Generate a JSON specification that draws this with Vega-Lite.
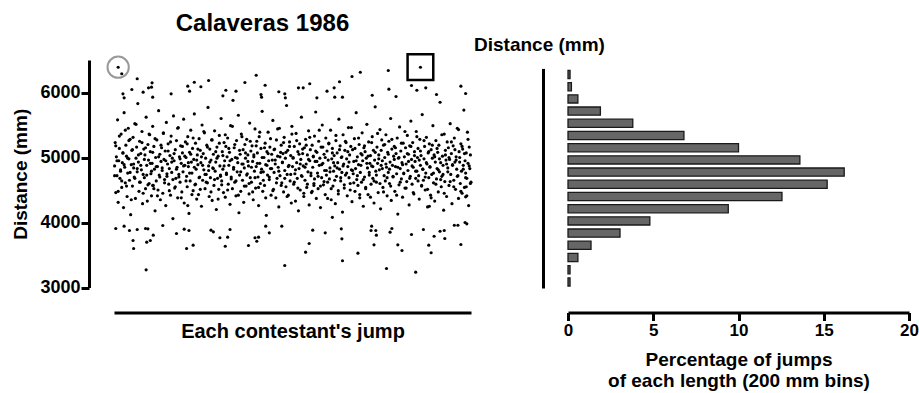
{
"$schema": "https://vega.github.io/schema/vega-lite/v6.json",
"autosize": {"type": "pad"},
"padding": {"left": 11, "top": 12, "right": 5, "bottom": 2},
"background": "white",
"bounds": "flush",
"spacing": 97,
"config": {
  "font": "Liberation Sans",
  "view": {"stroke": null},
  "axis": {"grid": false, "labelColor": "black", "titleColor": "black", "domainColor": "black", "tickColor": "black", "labelFontWeight": "bold", "titleFontWeight": "bold", "labelFlush": false},
  "title": {"fontWeight": "bold", "color": "black"}
},
"datasets": {
"jumps": [
{"j":1,"d":4870},{"j":2,"d":5230},{"j":3,"d":4460},{"j":4,"d":5010},{"j":5,"d":4720},{"j":6,"d":5580},{"j":7,"d":4310},{"j":8,"d":4950},{"j":9,"d":5140},{"j":10,"d":4680},
{"j":11,"d":4790},{"j":12,"d":5360},{"j":13,"d":4540},{"j":14,"d":4920},{"j":15,"d":5070},{"j":16,"d":4230},{"j":17,"d":5690},{"j":18,"d":4850},{"j":19,"d":4610},{"j":20,"d":5190},
{"j":21,"d":5020},{"j":22,"d":4400},{"j":23,"d":4760},{"j":24,"d":5450},{"j":25,"d":4980},{"j":26,"d":4650},{"j":27,"d":5280},{"j":28,"d":4120},{"j":29,"d":4890},{"j":30,"d":5110},
{"j":31,"d":4560},{"j":32,"d":5310},{"j":33,"d":4840},{"j":34,"d":4700},{"j":35,"d":5520},{"j":36,"d":4370},{"j":37,"d":4990},{"j":38,"d":5160},{"j":39,"d":4780},{"j":40,"d":5830},
{"j":41,"d":4930},{"j":42,"d":4480},{"j":43,"d":5250},{"j":44,"d":4620},{"j":45,"d":5060},{"j":46,"d":4810},{"j":47,"d":5400},{"j":48,"d":4290},{"j":49,"d":4740},{"j":50,"d":5130},
{"j":51,"d":4690},{"j":52,"d":5040},{"j":53,"d":4520},{"j":54,"d":5620},{"j":55,"d":4880},{"j":56,"d":4330},{"j":57,"d":5200},{"j":58,"d":4960},{"j":59,"d":4600},{"j":60,"d":5350},
{"j":61,"d":5090},{"j":62,"d":4750},{"j":63,"d":4410},{"j":64,"d":4910},{"j":65,"d":5480},{"j":66,"d":4570},{"j":67,"d":5170},{"j":68,"d":4820},{"j":69,"d":4180},{"j":70,"d":5000},
{"j":71,"d":4640},{"j":72,"d":5270},{"j":73,"d":4860},{"j":74,"d":4500},{"j":75,"d":5720},{"j":76,"d":4730},{"j":77,"d":5050},{"j":78,"d":4350},{"j":79,"d":4940},{"j":80,"d":5150},
{"j":81,"d":4800},{"j":82,"d":4450},{"j":83,"d":5380},{"j":84,"d":4970},{"j":85,"d":4660},{"j":86,"d":5100},{"j":87,"d":4260},{"j":88,"d":5540},{"j":89,"d":4710},{"j":90,"d":4900},
{"j":91,"d":5210},{"j":92,"d":4590},{"j":93,"d":4830},{"j":94,"d":5030},{"j":95,"d":4420},{"j":96,"d":5330},{"j":97,"d":4770},{"j":98,"d":4990},{"j":99,"d":4060},{"j":100,"d":5640},
{"j":101,"d":4950},{"j":102,"d":4530},{"j":103,"d":5120},{"j":104,"d":4680},{"j":105,"d":5260},{"j":106,"d":4850},{"j":107,"d":4380},{"j":108,"d":5460},{"j":109,"d":4740},{"j":110,"d":5010},
{"j":111,"d":4620},{"j":112,"d":5180},{"j":113,"d":4910},{"j":114,"d":4470},{"j":115,"d":5070},{"j":116,"d":4780},{"j":117,"d":5590},{"j":118,"d":4300},{"j":119,"d":4880},{"j":120,"d":5240},
{"j":121,"d":5000},{"j":122,"d":4710},{"j":123,"d":4550},{"j":124,"d":5320},{"j":125,"d":4860},{"j":126,"d":4140},{"j":127,"d":5080},{"j":128,"d":4640},{"j":129,"d":5420},{"j":130,"d":4930},
{"j":131,"d":4760},{"j":132,"d":5140},{"j":133,"d":4490},{"j":134,"d":4970},{"j":135,"d":5670},{"j":136,"d":4580},{"j":137,"d":5220},{"j":138,"d":4820},{"j":139,"d":4360},{"j":140,"d":5040},
{"j":141,"d":4890},{"j":142,"d":4430},{"j":143,"d":5290},{"j":144,"d":4700},{"j":145,"d":5110},{"j":146,"d":4920},{"j":147,"d":4250},{"j":148,"d":5500},{"j":149,"d":4650},{"j":150,"d":5060},
{"j":151,"d":4810},{"j":152,"d":5380},{"j":153,"d":4520},{"j":154,"d":4990},{"j":155,"d":4740},{"j":156,"d":5190},{"j":157,"d":4610},{"j":158,"d":5770},{"j":159,"d":4870},{"j":160,"d":4400},
{"j":161,"d":5130},{"j":162,"d":4690},{"j":163,"d":4960},{"j":164,"d":5270},{"j":165,"d":4340},{"j":166,"d":4840},{"j":167,"d":5050},{"j":168,"d":4570},{"j":169,"d":5410},{"j":170,"d":4790},
{"j":171,"d":4930},{"j":172,"d":4200},{"j":173,"d":5160},{"j":174,"d":4680},{"j":175,"d":5020},{"j":176,"d":4510},{"j":177,"d":5340},{"j":178,"d":4870},{"j":179,"d":4730},{"j":180,"d":5600},
{"j":181,"d":4640},{"j":182,"d":5090},{"j":183,"d":4820},{"j":184,"d":4460},{"j":185,"d":5230},{"j":186,"d":4950},{"j":187,"d":4390},{"j":188,"d":5170},{"j":189,"d":4760},{"j":190,"d":5010},
{"j":191,"d":5300},{"j":192,"d":4590},{"j":193,"d":4880},{"j":194,"d":5080},{"j":195,"d":4280},{"j":196,"d":5490},{"j":197,"d":4700},{"j":198,"d":4970},{"j":199,"d":4520},{"j":200,"d":5880},
{"j":201,"d":4850},{"j":202,"d":5150},{"j":203,"d":4620},{"j":204,"d":5000},{"j":205,"d":4410},{"j":206,"d":5260},{"j":207,"d":4780},{"j":208,"d":4920},{"j":209,"d":5650},{"j":210,"d":4150},
{"j":211,"d":4730},{"j":212,"d":5050},{"j":213,"d":4480},{"j":214,"d":5360},{"j":215,"d":4900},{"j":216,"d":4650},{"j":217,"d":5120},{"j":218,"d":4310},{"j":219,"d":4840},{"j":220,"d":5200},
{"j":221,"d":4990},{"j":222,"d":4560},{"j":223,"d":5280},{"j":224,"d":4750},{"j":225,"d":5040},{"j":226,"d":4870},{"j":227,"d":4440},{"j":228,"d":5530},{"j":229,"d":4690},{"j":230,"d":5100},
{"j":231,"d":4620},{"j":232,"d":5180},{"j":233,"d":4940},{"j":234,"d":4350},{"j":235,"d":5010},{"j":236,"d":4790},{"j":237,"d":5440},{"j":238,"d":4530},{"j":239,"d":4860},{"j":240,"d":5250},
{"j":241,"d":5070},{"j":242,"d":4700},{"j":243,"d":4260},{"j":244,"d":5320},{"j":245,"d":4910},{"j":246,"d":4600},{"j":247,"d":5140},{"j":248,"d":4820},{"j":249,"d":5710},{"j":250,"d":4480},
{"j":251,"d":4780},{"j":252,"d":5000},{"j":253,"d":4570},{"j":254,"d":5220},{"j":255,"d":4890},{"j":256,"d":4110},{"j":257,"d":5090},{"j":258,"d":4730},{"j":259,"d":5390},{"j":260,"d":4950},
{"j":261,"d":4660},{"j":262,"d":5160},{"j":263,"d":4830},{"j":264,"d":4420},{"j":265,"d":5050},{"j":266,"d":4960},{"j":267,"d":5570},{"j":268,"d":4510},{"j":269,"d":4770},{"j":270,"d":5130},
{"j":271,"d":4900},{"j":272,"d":4380},{"j":273,"d":5270},{"j":274,"d":4680},{"j":275,"d":5020},{"j":276,"d":4850},{"j":277,"d":4240},{"j":278,"d":5450},{"j":279,"d":4720},{"j":280,"d":5080},
{"j":281,"d":5190},{"j":282,"d":4610},{"j":283,"d":4930},{"j":284,"d":5060},{"j":285,"d":4470},{"j":286,"d":5310},{"j":287,"d":4800},{"j":288,"d":4990},{"j":289,"d":4550},{"j":290,"d":5800},
{"j":291,"d":4740},{"j":292,"d":5110},{"j":293,"d":4420},{"j":294,"d":4880},{"j":295,"d":5240},{"j":296,"d":4640},{"j":297,"d":5030},{"j":298,"d":4300},{"j":299,"d":5480},{"j":300,"d":4860},
{"j":301,"d":5000},{"j":302,"d":4590},{"j":303,"d":5170},{"j":304,"d":4750},{"j":305,"d":4330},{"j":306,"d":5370},{"j":307,"d":4920},{"j":308,"d":4680},{"j":309,"d":5090},{"j":310,"d":4180},
{"j":311,"d":4830},{"j":312,"d":5210},{"j":313,"d":4500},{"j":314,"d":4970},{"j":315,"d":5620},{"j":316,"d":4710},{"j":317,"d":5060},{"j":318,"d":4870},{"j":319,"d":4400},{"j":320,"d":5150},
{"j":321,"d":4650},{"j":322,"d":5280},{"j":323,"d":4900},{"j":324,"d":4540},{"j":325,"d":5040},{"j":326,"d":4780},{"j":327,"d":5410},{"j":328,"d":4270},{"j":329,"d":4950},{"j":330,"d":5120},
{"j":331,"d":4720},{"j":332,"d":4460},{"j":333,"d":5190},{"j":334,"d":4850},{"j":335,"d":5010},{"j":336,"d":4600},{"j":337,"d":5330},{"j":338,"d":4940},{"j":339,"d":5700},{"j":340,"d":4370},
{"j":341,"d":5080},{"j":342,"d":4760},{"j":343,"d":4520},{"j":344,"d":5250},{"j":345,"d":4880},{"j":346,"d":4990},{"j":347,"d":4230},{"j":348,"d":5160},{"j":349,"d":4690},{"j":350,"d":5500},
{"j":351,"d":4910},{"j":352,"d":4580},{"j":353,"d":5050},{"j":354,"d":4800},{"j":355,"d":4430},{"j":356,"d":5300},{"j":357,"d":4730},{"j":358,"d":5100},{"j":359,"d":4620},{"j":360,"d":4960},
{"j":361,"d":5220},{"j":362,"d":4670},{"j":363,"d":4840},{"j":364,"d":5420},{"j":365,"d":4350},{"j":366,"d":4980},{"j":367,"d":5140},{"j":368,"d":4560},{"j":369,"d":4790},{"j":370,"d":5030},
{"j":371,"d":4870},{"j":372,"d":4290},{"j":373,"d":5260},{"j":374,"d":4710},{"j":375,"d":5070},{"j":376,"d":4920},{"j":377,"d":4490},{"j":378,"d":5590},{"j":379,"d":4820},{"j":380,"d":5180},
{"j":381,"d":4640},{"j":382,"d":5000},{"j":383,"d":4770},{"j":384,"d":4160},{"j":385,"d":5350},{"j":386,"d":4900},{"j":387,"d":4530},{"j":388,"d":5110},{"j":389,"d":4730},{"j":390,"d":5230},
{"j":391,"d":4980},{"j":392,"d":4410},{"j":393,"d":4860},{"j":394,"d":5460},{"j":395,"d":4690},{"j":396,"d":5040},{"j":397,"d":4600},{"j":398,"d":5170},{"j":399,"d":4810},{"j":400,"d":4320},
{"j":401,"d":5120},{"j":402,"d":4750},{"j":403,"d":4940},{"j":404,"d":5290},{"j":405,"d":4480},{"j":406,"d":4830},{"j":407,"d":5690},{"j":408,"d":4660},{"j":409,"d":5010},{"j":410,"d":4570},
{"j":411,"d":4890},{"j":412,"d":5200},{"j":413,"d":4380},{"j":414,"d":4770},{"j":415,"d":5060},{"j":416,"d":4620},{"j":417,"d":5380},{"j":418,"d":4950},{"j":419,"d":4250},{"j":420,"d":5150},
{"j":421,"d":4700},{"j":422,"d":5090},{"j":423,"d":4520},{"j":424,"d":4990},{"j":425,"d":5510},{"j":426,"d":4840},{"j":427,"d":4430},{"j":428,"d":5240},{"j":429,"d":4730},{"j":430,"d":4910},
{"j":431,"d":5030},{"j":432,"d":4590},{"j":433,"d":4870},{"j":434,"d":5320},{"j":435,"d":4680},{"j":436,"d":5110},{"j":437,"d":4300},{"j":438,"d":4960},{"j":439,"d":5780},{"j":440,"d":4790},
{"j":441,"d":4620},{"j":442,"d":5160},{"j":443,"d":4910},{"j":444,"d":4460},{"j":445,"d":5040},{"j":446,"d":4810},{"j":447,"d":5430},{"j":448,"d":4210},{"j":449,"d":4880},{"j":450,"d":5270},
{"j":451,"d":4950},{"j":452,"d":4540},{"j":453,"d":5190},{"j":454,"d":4720},{"j":455,"d":5000},{"j":456,"d":4640},{"j":457,"d":5350},{"j":458,"d":4850},{"j":459,"d":4410},{"j":460,"d":5080},
{"j":461,"d":4770},{"j":462,"d":5250},{"j":463,"d":4600},{"j":464,"d":4930},{"j":465,"d":5600},{"j":466,"d":4340},{"j":467,"d":5130},{"j":468,"d":4880},{"j":469,"d":4700},{"j":470,"d":5020},
{"j":471,"d":5170},{"j":472,"d":4480},{"j":473,"d":4860},{"j":474,"d":5060},{"j":475,"d":4750},{"j":476,"d":5300},{"j":477,"d":4130},{"j":478,"d":4990},{"j":479,"d":4580},{"j":480,"d":5470},
{"j":481,"d":4830},{"j":482,"d":5100},{"j":483,"d":4670},{"j":484,"d":4920},{"j":485,"d":4390},{"j":486,"d":5220},{"j":487,"d":4760},{"j":488,"d":5010},{"j":489,"d":4530},{"j":490,"d":5150},
{"j":491,"d":4900},{"j":492,"d":4630},{"j":493,"d":5340},{"j":494,"d":4800},{"j":495,"d":5050},{"j":496,"d":4270},{"j":497,"d":5180},{"j":498,"d":4710},{"j":499,"d":5560},{"j":500,"d":4970},
{"j":501,"d":4590},{"j":502,"d":5230},{"j":503,"d":4850},{"j":504,"d":4440},{"j":505,"d":5090},{"j":506,"d":4940},{"j":507,"d":4680},{"j":508,"d":5400},{"j":509,"d":4790},{"j":510,"d":5000},
{"j":511,"d":5140},{"j":512,"d":4720},{"j":513,"d":4360},{"j":514,"d":5280},{"j":515,"d":4880},{"j":516,"d":5030},{"j":517,"d":4560},{"j":518,"d":5660},{"j":519,"d":4820},{"j":520,"d":4650},
{"j":521,"d":4980},{"j":522,"d":5170},{"j":523,"d":4500},{"j":524,"d":4760},{"j":525,"d":5310},{"j":526,"d":4900},{"j":527,"d":4240},{"j":528,"d":5070},{"j":529,"d":4690},{"j":530,"d":5210},
{"j":531,"d":4860},{"j":532,"d":4420},{"j":533,"d":5120},{"j":534,"d":4740},{"j":535,"d":4990},{"j":536,"d":5490},{"j":537,"d":4610},{"j":538,"d":5040},{"j":539,"d":4330},{"j":540,"d":4930},
{"j":541,"d":5260},{"j":542,"d":4670},{"j":543,"d":4830},{"j":544,"d":5080},{"j":545,"d":4470},{"j":546,"d":5190},{"j":547,"d":4780},{"j":548,"d":5850},{"j":549,"d":4920},{"j":550,"d":4550},
{"j":551,"d":4710},{"j":552,"d":5020},{"j":553,"d":4880},{"j":554,"d":4190},{"j":555,"d":5360},{"j":556,"d":4630},{"j":557,"d":5110},{"j":558,"d":4960},{"j":559,"d":4400},{"j":560,"d":5240},
{"j":561,"d":4840},{"j":562,"d":5150},{"j":563,"d":4570},{"j":564,"d":4970},{"j":565,"d":5520},{"j":566,"d":4740},{"j":567,"d":5060},{"j":568,"d":4290},{"j":569,"d":4890},{"j":570,"d":5180},
{"j":571,"d":4650},{"j":572,"d":5300},{"j":573,"d":4930},{"j":574,"d":4510},{"j":575,"d":5010},{"j":576,"d":4820},{"j":577,"d":5450},{"j":578,"d":4720},{"j":579,"d":4370},{"j":580,"d":5090},
{"j":581,"d":5000},{"j":582,"d":4600},{"j":583,"d":5210},{"j":584,"d":4790},{"j":585,"d":4450},{"j":586,"d":5130},{"j":587,"d":4880},{"j":588,"d":5730},{"j":589,"d":4540},{"j":590,"d":4950},
{"j":591,"d":4760},{"j":592,"d":5070},{"j":593,"d":4680},{"j":594,"d":5390},{"j":595,"d":4910},{"j":596,"d":4260},{"j":597,"d":5160},{"j":598,"d":4830},{"j":599,"d":5040},{"j":600,"d":4620},
{"j":1,"d":4720},{"j":3,"d":5180},{"j":5,"d":4950},{"j":7,"d":4480},{"j":9,"d":5330},{"j":11,"d":4810},{"j":13,"d":4640},{"j":15,"d":5070},{"j":17,"d":4890},{"j":19,"d":5420},
{"j":21,"d":4560},{"j":23,"d":4990},{"j":25,"d":5260},{"j":27,"d":4770},{"j":29,"d":4350},{"j":31,"d":5120},{"j":33,"d":4900},{"j":35,"d":4680},{"j":37,"d":5510},{"j":39,"d":4830},
{"j":41,"d":5040},{"j":43,"d":4620},{"j":45,"d":4880},{"j":47,"d":5230},{"j":49,"d":4450},{"j":51,"d":4970},{"j":53,"d":5150},{"j":55,"d":4730},{"j":57,"d":4580},{"j":59,"d":5360},
{"j":61,"d":4910},{"j":63,"d":4790},{"j":65,"d":5080},{"j":67,"d":4520},{"j":69,"d":5290},{"j":71,"d":4860},{"j":73,"d":4410},{"j":75,"d":5010},{"j":77,"d":4700},{"j":79,"d":5190},
{"j":81,"d":4840},{"j":83,"d":5370},{"j":85,"d":4610},{"j":87,"d":4950},{"j":89,"d":4750},{"j":91,"d":5100},{"j":93,"d":4490},{"j":95,"d":5240},{"j":97,"d":4930},{"j":99,"d":4660},
{"j":101,"d":5060},{"j":103,"d":4550},{"j":105,"d":4820},{"j":107,"d":5450},{"j":109,"d":4700},{"j":111,"d":4980},{"j":113,"d":4380},{"j":115,"d":5170},{"j":117,"d":4870},{"j":119,"d":5020},
{"j":121,"d":4640},{"j":123,"d":5210},{"j":125,"d":4920},{"j":127,"d":4760},{"j":129,"d":5050},{"j":131,"d":4430},{"j":133,"d":5300},{"j":135,"d":4850},{"j":137,"d":4590},{"j":139,"d":4960},
{"j":141,"d":5130},{"j":143,"d":4690},{"j":145,"d":4510},{"j":147,"d":5010},{"j":149,"d":4880},{"j":151,"d":5400},{"j":153,"d":4740},{"j":155,"d":4620},{"j":157,"d":5160},{"j":159,"d":4800},
{"j":161,"d":4930},{"j":163,"d":4470},{"j":165,"d":5270},{"j":167,"d":4830},{"j":169,"d":4660},{"j":171,"d":5090},{"j":173,"d":4990},{"j":175,"d":4360},{"j":177,"d":5220},{"j":179,"d":4710},
{"j":181,"d":4580},{"j":183,"d":5030},{"j":185,"d":4870},{"j":187,"d":5350},{"j":189,"d":4740},{"j":191,"d":4500},{"j":193,"d":5140},{"j":195,"d":4950},{"j":197,"d":4670},{"j":199,"d":5480},
{"j":201,"d":4820},{"j":203,"d":5200},{"j":205,"d":4640},{"j":207,"d":4990},{"j":209,"d":4420},{"j":211,"d":5110},{"j":213,"d":4780},{"j":215,"d":5320},{"j":217,"d":4900},{"j":219,"d":4560},
{"j":221,"d":5070},{"j":223,"d":4730},{"j":225,"d":4940},{"j":227,"d":4600},{"j":229,"d":5250},{"j":231,"d":4850},{"j":233,"d":4470},{"j":235,"d":5040},{"j":237,"d":4690},{"j":239,"d":5180},
{"j":241,"d":4910},{"j":243,"d":4540},{"j":245,"d":5390},{"j":247,"d":4770},{"j":249,"d":5000},{"j":251,"d":4650},{"j":253,"d":5150},{"j":255,"d":4380},{"j":257,"d":4880},{"j":259,"d":5060},
{"j":261,"d":4700},{"j":263,"d":5290},{"j":265,"d":4830},{"j":267,"d":4490},{"j":269,"d":5120},{"j":271,"d":4960},{"j":273,"d":4610},{"j":275,"d":5440},{"j":277,"d":4790},{"j":279,"d":5010},
{"j":281,"d":4570},{"j":283,"d":4920},{"j":285,"d":5230},{"j":287,"d":4680},{"j":289,"d":5080},{"j":291,"d":4400},{"j":293,"d":4860},{"j":295,"d":5170},{"j":297,"d":4740},{"j":299,"d":5360},
{"j":301,"d":4990},{"j":303,"d":4620},{"j":305,"d":4810},{"j":307,"d":5260},{"j":309,"d":4530},{"j":311,"d":5050},{"j":313,"d":4900},{"j":315,"d":4720},{"j":317,"d":5130},{"j":319,"d":4450},
{"j":321,"d":4850},{"j":323,"d":5190},{"j":325,"d":4590},{"j":327,"d":4970},{"j":329,"d":5310},{"j":331,"d":4760},{"j":333,"d":4480},{"j":335,"d":5020},{"j":337,"d":4670},{"j":339,"d":5100},
{"j":341,"d":4940},{"j":343,"d":4710},{"j":345,"d":5420},{"j":347,"d":4560},{"j":349,"d":4890},{"j":351,"d":5160},{"j":353,"d":4630},{"j":355,"d":5000},{"j":357,"d":4800},{"j":359,"d":4370},
{"j":361,"d":5210},{"j":363,"d":4780},{"j":365,"d":4520},{"j":367,"d":5070},{"j":369,"d":4920},{"j":371,"d":4650},{"j":373,"d":5340},{"j":375,"d":4840},{"j":377,"d":4440},{"j":379,"d":5120},
{"j":381,"d":4690},{"j":383,"d":5010},{"j":385,"d":4870},{"j":387,"d":4580},{"j":389,"d":5250},{"j":391,"d":4760},{"j":393,"d":5090},{"j":395,"d":4930},{"j":397,"d":4500},{"j":399,"d":5460},
{"j":401,"d":4800},{"j":403,"d":4610},{"j":405,"d":5140},{"j":407,"d":4950},{"j":409,"d":4720},{"j":411,"d":5300},{"j":413,"d":4430},{"j":415,"d":4880},{"j":417,"d":5040},{"j":419,"d":4660},
{"j":421,"d":5180},{"j":423,"d":4540},{"j":425,"d":4910},{"j":427,"d":5020},{"j":429,"d":4770},{"j":431,"d":4390},{"j":433,"d":5230},{"j":435,"d":4860},{"j":437,"d":4640},{"j":439,"d":5080},
{"j":441,"d":4730},{"j":443,"d":5370},{"j":445,"d":4980},{"j":447,"d":4600},{"j":449,"d":5110},{"j":451,"d":4830},{"j":453,"d":4470},{"j":455,"d":5200},{"j":457,"d":4900},{"j":459,"d":4690},
{"j":461,"d":5050},{"j":463,"d":4820},{"j":465,"d":4560},{"j":467,"d":5280},{"j":469,"d":4710},{"j":471,"d":4970},{"j":473,"d":5150},{"j":475,"d":4420},{"j":477,"d":4850},{"j":479,"d":5000},
{"j":481,"d":4620},{"j":483,"d":5220},{"j":485,"d":4890},{"j":487,"d":4750},{"j":489,"d":5400},{"j":491,"d":4530},{"j":493,"d":5060},{"j":495,"d":4940},{"j":497,"d":4680},{"j":499,"d":5170},
{"j":501,"d":4870},{"j":503,"d":4460},{"j":505,"d":5030},{"j":507,"d":4790},{"j":509,"d":5320},{"j":511,"d":4640},{"j":513,"d":4960},{"j":515,"d":5100},{"j":517,"d":4570},{"j":519,"d":4820},
{"j":521,"d":5260},{"j":523,"d":4700},{"j":525,"d":4920},{"j":527,"d":4510},{"j":529,"d":5090},{"j":531,"d":4850},{"j":533,"d":4380},{"j":535,"d":5190},{"j":537,"d":4760},{"j":539,"d":5010},
{"j":541,"d":4590},{"j":543,"d":5140},{"j":545,"d":4810},{"j":547,"d":4980},{"j":549,"d":4660},{"j":551,"d":5350},{"j":553,"d":4740},{"j":555,"d":4450},{"j":557,"d":5040},{"j":559,"d":4900},
{"j":561,"d":4780},{"j":563,"d":5000},{"j":565,"d":4630},{"j":567,"d":5240},{"j":569,"d":4880},{"j":571,"d":4550},{"j":573,"d":5120},{"j":575,"d":4960},{"j":577,"d":4710},{"j":579,"d":5430},
{"j":581,"d":4930},{"j":583,"d":4480},{"j":585,"d":5170},{"j":587,"d":4820},{"j":589,"d":5060},{"j":591,"d":4690},{"j":593,"d":4410},{"j":595,"d":5280},{"j":597,"d":4870},{"j":599,"d":4600},
{"j":7,"d":6389},{"j":13,"d":6288},{"j":39,"d":6211},{"j":64,"d":6149},{"j":63,"d":6082},{"j":58,"d":6072},{"j":124,"d":6097},{"j":135,"d":6158},{"j":146,"d":6088},{"j":159,"d":6185},
{"j":220,"d":6154},{"j":239,"d":6266},{"j":254,"d":6112},{"j":30,"d":6046},{"j":49,"d":6005},{"j":96,"d":5980},{"j":188,"d":6035},{"j":205,"d":6020},{"j":127,"d":6020},{"j":65,"d":5928},
{"j":15,"d":5980},{"j":17,"d":5918},{"j":277,"d":6011},{"j":287,"d":5980},{"j":288,"d":5918},{"j":247,"d":5969},{"j":248,"d":5928},{"j":183,"d":5949},
{"j":515,"d":6389},{"j":461,"d":6338},{"j":414,"d":6312},{"j":400,"d":6246},{"j":379,"d":6165},{"j":329,"d":6134},{"j":310,"d":6072},{"j":318,"d":6072},{"j":370,"d":6072},{"j":358,"d":6020},
{"j":462,"d":6051},{"j":500,"d":6108},{"j":524,"d":6072},{"j":583,"d":6097},{"j":591,"d":5985},{"j":542,"d":5969},{"j":509,"d":6035},{"j":384,"d":5928},{"j":371,"d":5928},{"j":434,"d":5958},
{"j":341,"d":5918},{"j":474,"d":5938},
{"j":3,"d":3908},{"j":32,"d":3723},{"j":33,"d":3600},{"j":54,"d":3272},{"j":55,"d":3697},{"j":61,"d":3723},{"j":66,"d":3805},{"j":105,"d":3831},{"j":118,"d":3897},{"j":126,"d":3877},
{"j":122,"d":3600},{"j":133,"d":3651},{"j":163,"d":3882},{"j":167,"d":3857},{"j":178,"d":3765},{"j":191,"d":3774},{"j":187,"d":3635},{"j":195,"d":3892},{"j":226,"d":3646},{"j":237,"d":3765},
{"j":240,"d":3712},{"j":243,"d":3774},{"j":287,"d":3338},{"j":26,"d":3877},{"j":17,"d":3943},{"j":39,"d":3892},{"j":57,"d":3903},{"j":53,"d":3908},{"j":82,"d":3954},{"j":261,"d":3841},
{"j":255,"d":3943},{"j":282,"d":3943},
{"j":334,"d":3882},{"j":355,"d":3841},{"j":382,"d":3903},{"j":383,"d":3749},{"j":328,"d":3677},{"j":322,"d":3543},{"j":384,"d":3411},{"j":410,"d":3528},{"j":437,"d":3657},{"j":458,"d":3292},
{"j":477,"d":3657},{"j":484,"d":3569},{"j":507,"d":3236},{"j":529,"d":3651},{"j":533,"d":3534},{"j":500,"d":3815},{"j":520,"d":3892},{"j":538,"d":3789},{"j":548,"d":3866},{"j":555,"d":3877},
{"j":556,"d":3754},{"j":583,"d":3662},{"j":467,"d":3908},{"j":464,"d":3851},{"j":433,"d":3943},{"j":432,"d":3877},{"j":440,"d":3877},{"j":441,"d":3805},{"j":572,"d":3958},{"j":578,"d":3958},
{"j":593,"d":3980},{"j":590,"d":4000},{"j":591,"d":4395},{"j":592,"d":4550},{"j":530,"d":4250},{"j":367,"d":4080},{"j":124,"d":4260},{"j":65,"d":4570},{"j":336,"d":4570}
],
"hist": [
{"bin":6400,"pct":0.12},{"bin":6200,"pct":0.2},{"bin":6000,"pct":0.58},{"bin":5800,"pct":1.9},{"bin":5600,"pct":3.8},{"bin":5400,"pct":6.8},
{"bin":5200,"pct":10.0},{"bin":5000,"pct":13.6},{"bin":4800,"pct":16.2},{"bin":4600,"pct":15.2},{"bin":4400,"pct":12.55},{"bin":4200,"pct":9.4},
{"bin":4000,"pct":4.8},{"bin":3800,"pct":3.05},{"bin":3600,"pct":1.35},{"bin":3400,"pct":0.58},{"bin":3200,"pct":0.12},{"bin":3000,"pct":0.12}
]
},
"hconcat": [
{
  "width": 357,
  "height": 227.5,
  "title": {"text": "Calaveras 1986", "fontSize": 24, "anchor": "middle", "frame": "group", "dx": -30, "offset": -6, "baseline": "alphabetic"},
  "layer": [
    {
      "data": {"name": "jumps"},
      "mark": {"type": "circle", "size": 10, "color": "black", "opacity": 1},
      "encoding": {
        "x": {"field": "j", "type": "quantitative", "scale": {"domain": [0, 600], "nice": false, "zero": false},
              "axis": {"title": "Each contestant's jump", "offset": 25, "ticks": false, "labels": false, "domainWidth": 3, "titleFontSize": 20, "titlePadding": 9}},
        "y": {"field": "d", "type": "quantitative", "scale": {"domain": [3000, 6500], "nice": false, "zero": false},
              "axis": {"title": "Distance (mm)", "values": [3000, 4000, 5000, 6000], "format": "d", "offset": 25, "domainWidth": 3, "tickWidth": 3, "tickSize": 8, "labelFontSize": 18, "labelPadding": 1, "titleFontSize": 19, "titlePadding": 9}}
      }
    },
    {
      "data": {"values": [{"j": 7, "d": 6389}]},
      "mark": {"type": "point", "shape": "circle", "size": 452, "filled": false, "stroke": "#999999", "strokeWidth": 2, "opacity": 1},
      "encoding": {"x": {"field": "j", "type": "quantitative"}, "y": {"field": "d", "type": "quantitative"}}
    },
    {
      "data": {"values": [{"j": 515, "d": 6389}]},
      "mark": {"type": "point", "shape": "square", "size": 660, "filled": false, "stroke": "black", "strokeWidth": 2.5, "opacity": 1},
      "encoding": {"x": {"field": "j", "type": "quantitative"}, "y": {"field": "d", "type": "quantitative"}}
    }
  ]
},
{
  "width": 341,
  "height": 227.5,
  "title": {"text": "Distance (mm)", "fontSize": 19, "anchor": "start", "frame": "group", "dx": -94, "offset": -10, "baseline": "alphabetic"},
  "data": {"name": "hist"},
  "mark": {"type": "bar", "fill": "#666666", "stroke": "#1a1a1a", "strokeWidth": 1.3},
  "encoding": {
    "x": {"field": "pct", "type": "quantitative", "scale": {"domain": [0, 20], "nice": false},
          "axis": {"values": [0, 5, 10, 15, 20], "offset": 25, "title": ["Percentage of jumps", "of each length (200 mm bins)"], "domainWidth": 3, "tickWidth": 3, "tickSize": 8, "labelFontSize": 17, "labelPadding": 2, "titleFontSize": 19, "titleLineHeight": 21, "titlePadding": 12}},
    "y": {"field": "bin", "type": "ordinal", "sort": "descending", "scale": {"range": [8.4, 228], "paddingInner": 0.33, "paddingOuter": 0.165},
          "axis": {"title": null, "labels": false, "ticks": false, "offset": 25, "domainWidth": 3}}
  }
}
]
}
